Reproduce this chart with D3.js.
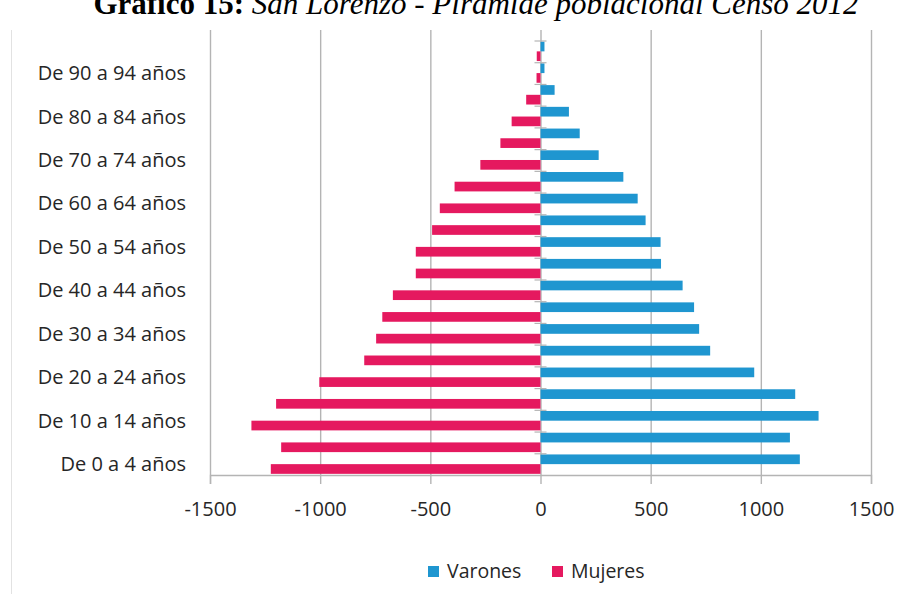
<!DOCTYPE html>
<html>
<head>
<meta charset="utf-8">
<script src="https://cdn.jsdelivr.net/npm/d3@7"></script>
<style>
  body { margin: 0; background: #fff; }
  text { font-family: "Open Sans", "Noto Sans", sans-serif; }
</style>
</head>
<body>
<div id="my_dataviz"></div>
<script>
// age groups, bottom to top
let ageGroups = [
  "De 0 a 4 años", "De 5 a 9 años", "De 10 a 14 años", "De 15 a 19 años",
  "De 20 a 24 años", "De 25 a 29 años", "De 30 a 34 años", "De 35 a 39 años",
  "De 40 a 44 años", "De 45 a 49 años", "De 50 a 54 años", "De 55 a 59 años",
  "De 60 a 64 años", "De 65 a 69 años", "De 70 a 74 años", "De 75 a 79 años",
  "De 80 a 84 años", "De 85 a 89 años", "De 90 a 94 años", "De 95 a 99 años"
];

let varones = [1177, 1132, 1262, 1156, 970, 770, 720, 697, 645, 547,
  545, 477, 441, 376, 264, 178, 129, 64, 18, 18];

let mujeres = [-1224, -1177, -1312, -1200, -1004, -800, -746, -718, -670, -566,
  -566, -492, -457, -390, -273, -182, -131, -65, -18, -17];

let series = ["Varones", "Mujeres"];
let colors = ["#1f96d0", "#e5195f"];
let xTicks = [-1500, -1000, -500, 0, 500, 1000, 1500];

let title1 = "Gráfico 15:";
let title2 = " San Lorenzo - Pirámide poblacional Censo 2012";

// set the dimensions of the graph
let width = 900, height = 594;
let plot = { left: 210, right: 871, top: 40.5, bottom: 475 };

let svg = d3
  .select("#my_dataviz")
  .append("svg")
  .attr("width", width)
  .attr("height", height);

// frame line on the left
svg.append("line")
  .attr("x1", 11.5).attr("x2", 11.5)
  .attr("y1", 30).attr("y2", height)
  .attr("stroke", "#e2e2e2")
  .attr("stroke-width", 1);

// title (cut at the top, as in the document)
let title = svg.append("text")
  .attr("x", 476)
  .attr("y", 14)
  .attr("text-anchor", "middle")
  .style("font-family", "'Liberation Serif', 'Times New Roman', serif")
  .style("font-size", "31px")
  .attr("fill", "#000");
title.append("tspan").style("font-weight", "bold").text(title1);
title.append("tspan").style("font-style", "italic").text(title2);

// scales
let x = d3.scaleLinear().domain([-1500, 1500]).range([plot.left, plot.right]);

let y = d3.scaleBand()
  .domain(ageGroups.slice().reverse())
  .range([plot.top, plot.bottom]);

let ySub = d3.scaleBand()
  .domain(series)
  .range([0, y.bandwidth()])
  .paddingOuter(0.12);

// gridlines
svg.append("g")
  .selectAll("line")
  .data(xTicks)
  .join("line")
  .attr("x1", d => x(d) + 0.5)
  .attr("x2", d => x(d) + 0.5)
  .attr("y1", 30)
  .attr("y2", plot.bottom)
  .attr("stroke", "#b4b4b4")
  .attr("stroke-width", 1.4);

// bars
let rows = ageGroups.map((g, i) => ({ group: g, Varones: varones[i], Mujeres: mujeres[i] }));

series.forEach(function (s, si) {
  svg.append("g")
    .selectAll("rect")
    .data(rows)
    .join("rect")
    .attr("x", d => x(Math.min(0, d[s])))
    .attr("width", d => Math.abs(x(d[s]) - x(0)))
    .attr("y", d => y(d.group) + ySub(s))
    .attr("height", ySub.bandwidth())
    .attr("fill", colors[si]);
});

// vertical axis at zero with small cross ticks between categories
svg.append("g")
  .selectAll("line")
  .data(ageGroups)
  .join("line")
  .attr("x1", x(0) - 6)
  .attr("x2", x(0) + 6)
  .attr("y1", d => y(d) + 0.5)
  .attr("y2", d => y(d) + 0.5)
  .attr("stroke", "#b4b4b4")
  .attr("stroke-width", 1.2);

// bottom axis
let xAxis = svg.append("g")
  .attr("transform", "translate(0," + plot.bottom + ")")
  .call(d3.axisBottom(x).tickValues(xTicks).tickSize(9).tickPadding(18).tickFormat(d => String(d)));
xAxis.select(".domain").attr("stroke", "#b4b4b4").attr("stroke-width", 1.4);
xAxis.selectAll(".tick line").attr("stroke", "#b4b4b4").attr("stroke-width", 1.4);
xAxis.selectAll(".tick text")
  .style("font-size", "20px")
  .style("font-family", "'Open Sans', sans-serif")
  .attr("fill", "#262626");

// category labels, every other one
svg.append("g")
  .selectAll("text")
  .data(ageGroups.filter((d, i) => i % 2 === 0 && i < 19))
  .join("text")
  .attr("x", 186)
  .attr("y", d => y(d) + y.bandwidth() / 2)
  .attr("dy", "0.35em")
  .attr("text-anchor", "end")
  .style("font-size", "20px")
  .attr("fill", "#262626")
  .text(d => d);

// legend
let legendX = [428, 552];
let legend = svg.append("g")
  .selectAll("g")
  .data(series)
  .join("g")
  .attr("transform", (d, i) => "translate(" + legendX[i] + ",571)");
legend.append("rect")
  .attr("x", 0).attr("y", -5)
  .attr("width", 11).attr("height", 11)
  .attr("fill", (d, i) => colors[i]);
legend.append("text")
  .attr("x", 19)
  .attr("dy", "0.35em")
  .style("font-size", "19.5px")
  .attr("fill", "#262626")
  .text(d => d);
</script>
</body>
</html>
